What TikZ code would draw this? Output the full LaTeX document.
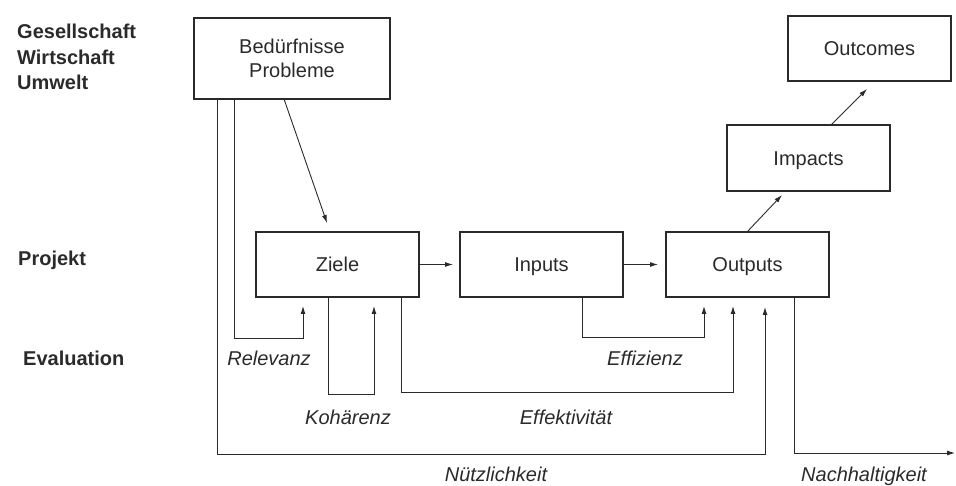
\documentclass[tikz,border=0pt]{standalone}
\usepackage{fontspec}
\setmainfont{Liberation Sans}
\usetikzlibrary{arrows.meta}
\definecolor{ink}{HTML}{2A2A2A}
\tikzset{
  box/.style={draw=ink, line width=1.1pt, minimum width=163pt, minimum height=65pt, inner sep=0pt, outer sep=0pt, align=center, font=\fontsize{20}{24}\selectfont, text=ink},
  onebox/.style={box, text height=15pt, text depth=0pt},
  conn/.style={draw=ink, line width=0.9pt},
  arr/.style={conn, -{Latex[length=8pt,width=5pt]}},
  side/.style={anchor=base west, inner sep=0pt, font=\fontsize{20}{24}\selectfont\bfseries, text=ink},
  evl/.style={anchor=base, inner sep=0pt, font=\fontsize{20}{24}\selectfont\itshape, text=ink}
}
\begin{document}
\begin{tikzpicture}[x=1pt,y=-1pt]
\useasboundingbox (0,0) rectangle (956,486);
% boxes
\node[box, minimum width=196pt, minimum height=81pt] (bed) at (292,58.5) {Bedürfnisse\\Probleme};
\node[onebox] (ziele) at (337.5,264.5) {Ziele};
\node[onebox] (inputs) at (541.5,264.5) {Inputs};
\node[onebox] (outputs) at (747.5,264.5) {Outputs};
\node[onebox, minimum height=66pt] (impacts) at (808.5,158) {Impacts};
\node[onebox] (outcomes) at (869.5,48.5) {Outcomes};
% side labels
\node[side] (ges) at (17,39) {Gesellschaft};
\node[side] (wir) at (17,65) {Wirtschaft};
\node[side] (umw) at (17,90) {Umwelt};
\node[side] (proj) at (18,266) {Projekt};
\node[side] (eval) at (23,366) {Evaluation};
% coordinates
\coordinate (bA) at (284,99);
\coordinate (zA) at (327,223);
\coordinate (bR) at (234,99);
\coordinate (rel1) at (234,338);
\coordinate (rel2) at (303,338);
\coordinate (rel3) at (303,306);
\coordinate (zK) at (328,297);
\coordinate (koh1) at (328,394);
\coordinate (koh2) at (374,394);
\coordinate (koh3) at (374,306);
\coordinate (zE) at (401,297);
\coordinate (eff1) at (401,392);
\coordinate (eff2) at (733,392);
\coordinate (eff3) at (733,306);
\coordinate (iE) at (582,297);
\coordinate (ez1) at (582,337);
\coordinate (ez2) at (704,337);
\coordinate (ez3) at (704,306);
\coordinate (bN) at (217,99);
\coordinate (nu1) at (217,454);
\coordinate (nu2) at (765,454);
\coordinate (nu3) at (765,307);
\coordinate (oN) at (794,297);
\coordinate (na1) at (794,453);
\coordinate (na2) at (955,453);
\coordinate (oI) at (747,232);
\coordinate (iI) at (782,195);
\coordinate (iO) at (831,125);
\coordinate (oO) at (867,89);
% connectors
\draw[arr] (bA) -- (zA);
\draw[arr] (bR) -- (rel1) -- (rel2) -- (rel3);
\draw[arr] (zK) -- (koh1) -- (koh2) -- (koh3);
\draw[arr] (zE) -- (eff1) -- (eff2) -- (eff3);
\draw[arr] (iE) -- (ez1) -- (ez2) -- (ez3);
\draw[arr] (bN) -- (nu1) -- (nu2) -- (nu3);
\draw[arr] (oN) -- (na1) -- (na2);
\draw[arr] (ziele.east) -- ++(34,0);
\draw[arr] (inputs.east) -- ++(35,0);
\draw[arr] (oI) -- (iI);
\draw[arr] (iO) -- (oO);
% evaluation labels
\node[evl] (lrel) at (269,366) {Relevanz};
\node[evl] (lkoh) at (348,424) {Kohärenz};
\node[evl] (leffz) at (645,366) {Effizienz};
\node[evl] (leffk) at (566,424) {Effektivität};
\node[evl] (lnu) at (496,481) {Nützlichkeit};
\node[evl] (lna) at (864,481) {Nachhaltigkeit};
\end{tikzpicture}
\end{document}
